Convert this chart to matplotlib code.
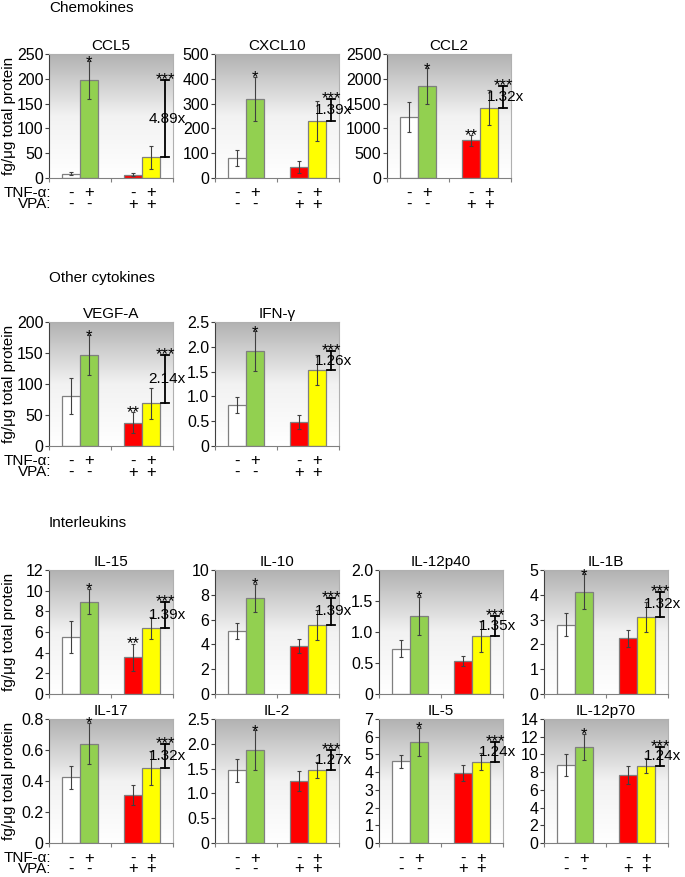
import numpy as np
import matplotlib.pyplot as plt
from matplotlib.colors import LinearSegmentedColormap
from matplotlib.transforms import blended_transform_factory

plt.rcParams['font.family'] = ['Liberation Sans', 'DejaVu Sans']

# bar order in every panel: control, TNF-a, VPA, TNF-a + VPA
panel_names = ["CCL5", "CXCL10", "CCL2", "VEGF-A", "IFN-γ",
               "IL-15", "IL-10", "IL-12p40", "IL-1B",
               "IL-17", "IL-2", "IL-5", "IL-12p70"]
means = [[8.7, 197.7, 6.7, 41.6],
         [80, 319, 43, 230],
         [1227, 1857, 757, 1421],
         [81, 146.5, 37.8, 69],
         [0.82, 1.91, 0.48, 1.53],
         [5.52, 8.93, 3.57, 6.4],
         [5.08, 7.76, 3.86, 5.57],
         [0.73, 1.26, 0.535, 0.93],
         [2.8, 4.13, 2.24, 3.11],
         [0.424, 0.641, 0.309, 0.483],
         [1.466, 1.878, 1.25, 1.48],
         [4.62, 5.70, 3.94, 4.60],
         [8.82, 10.84, 7.68, 8.71]]
sds = [[3, 37.5, 2.7, 23.8],
       [33, 90, 24, 79],
       [300, 355, 110, 362],
       [29, 32, 16.5, 25],
       [0.16, 0.40, 0.135, 0.31],
       [1.52, 1.23, 1.3, 1.05],
       [0.61, 1.15, 0.58, 1.23],
       [0.135, 0.305, 0.083, 0.252],
       [0.45, 0.69, 0.36, 0.6],
       [0.076, 0.133, 0.066, 0.11],
       [0.237, 0.397, 0.2, 0.16],
       [0.37, 0.815, 0.465, 0.475],
       [1.24, 1.52, 0.99, 0.86]]
y_max = [250, 500, 2500, 200, 2.5, 12, 10, 2.0, 5, 0.8, 2.5, 7, 14]
y_step = [50, 100, 500, 50, 0.5, 2, 2, 0.5, 1, 0.2, 0.5, 1, 2]
fold_labels = ["4.89x", "1.39x", "1.32x", "2.14x", "1.26x",
               "1.39x", "1.39x", "1.35x", "1.32x",
               "1.32x", "1.27x", "1.24x", "1.24x"]
red_marks = ["", "", "**", "**", "", "**", "", "", "", "", "", "", ""]
tnf_signs = ["-", "+", "-", "+"]
vpa_signs = ["-", "-", "+", "+"]
bar_colors = ["white", "#92d050", "#ff0000", "#ffff00"]
sections = ["Chemokines", "Other cytokines", "Interleukins"]

# layout in pixels (left, top) of each plot area
W, H = 685, 877
AW, AH = 124, 124
positions = [(49, 54), (215, 54), (387, 54),
             (49, 322), (215, 322),
             (49, 570), (215, 570), (379, 570), (544, 570),
             (49, 719), (215, 719), (379, 719), (544, 719)]
section_y = [8, 278, 523]
ylabel_panels = [0, 3, 5, 9]
rowlabel_panels = [0, 3, 9]
no_sign_panels = [5, 6, 7, 8]

bar_x = [0.358, 0.642, 1.358, 1.642]
bar_w = 0.284
bracket_x = 1.875
FS = 11
TICK_FS = 11.5
SIGN_FS = 12

grad_cmap = LinearSegmentedColormap.from_list("bg", ["#b2b2b2", "#f2f2f2", "#ffffff"])
gradient = np.linspace(0, 1, 256).reshape(-1, 1)

fig = plt.figure(figsize=(W / 100, H / 100), dpi=100)


def fmt_tick(v, step):
    if abs(v) < 1e-9:
        return "0"
    if step < 1:
        return f"{v:.1f}"
    return f"{int(round(v))}"


for i, name in enumerate(panel_names):
    left, top = positions[i]
    ax = fig.add_axes([left / W, 1 - (top + AH) / H, AW / W, AH / H])
    ax.imshow(gradient, cmap=grad_cmap, aspect='auto', extent=[0, 1, 0, 1],
              transform=ax.transAxes, zorder=0, interpolation='bilinear')

    m = means[i]
    s = sds[i]
    ax.bar(bar_x, m, width=bar_w, color=bar_colors, edgecolor="#7f7f7f",
           linewidth=0.9, zorder=2)
    ax.errorbar(bar_x, m, yerr=s, fmt='none', ecolor="#404040",
                elinewidth=0.8, capsize=1.5, capthick=0.8, zorder=3)

    # significance marks
    ax.annotate("*", (bar_x[1], m[1] + s[1]), xytext=(0, -4),
                textcoords='offset points', ha='center', va='baseline',
                fontsize=SIGN_FS, zorder=4)
    if red_marks[i]:
        ax.annotate(red_marks[i], (bar_x[2], m[2] + s[2]), xytext=(0, -3.5),
                    textcoords='offset points', ha='center', va='baseline',
                    fontsize=SIGN_FS, zorder=4)

    # fold-change bracket between TNF-a+VPA and TNF-a
    lo, hi = m[3], m[1]
    cap = 0.065
    ax.plot([bracket_x, bracket_x], [lo, hi], color='black', lw=1.3, zorder=4)
    ax.plot([bracket_x - cap, bracket_x + cap], [hi, hi], color='black', lw=1.3, zorder=4)
    ax.plot([bracket_x - cap, bracket_x + cap], [lo, lo], color='black', lw=1.3, zorder=4)
    ax.annotate("***", (bracket_x, hi), xytext=(0, -3),
                textcoords='offset points', ha='center', va='baseline',
                fontsize=SIGN_FS, zorder=5)
    ax.text(bracket_x + 0.03, (lo + hi) / 2, fold_labels[i], ha='center',
            va='center', fontsize=FS, zorder=5)

    ax.set_xlim(0, 2)
    ax.set_ylim(0, y_max[i])
    yt = np.arange(0, y_max[i] + y_step[i] / 2, y_step[i])
    ax.set_yticks(yt)
    ax.set_yticklabels([fmt_tick(v, y_step[i]) for v in yt], fontsize=TICK_FS)
    ax.set_xticks([0, 1, 2])
    ax.set_xticklabels([])
    ax.tick_params(axis='y', length=3, width=0.8, color='#404040', pad=1)
    ax.tick_params(axis='x', length=3, width=0.8, color='#808080')
    ax.spines['left'].set_color('#404040')
    ax.spines['bottom'].set_color('#808080')
    ax.spines['top'].set_color('#b0b0b0')
    ax.spines['right'].set_color('#b0b0b0')
    for sp in ax.spines.values():
        sp.set_linewidth(0.8)
    ax.set_title(name, fontsize=FS, pad=3)

    if i not in no_sign_panels:
        tr = blended_transform_factory(ax.transData, ax.transAxes)
        for x, t, v in zip(bar_x, tnf_signs, vpa_signs):
            ax.text(x, -15 / AH, t, transform=tr, ha='center', va='center', fontsize=SIGN_FS)
            ax.text(x, -26 / AH, v, transform=tr, ha='center', va='center', fontsize=SIGN_FS)
    if i in rowlabel_panels:
        ax.text(0.02, -15 / AH, "TNF-α:", transform=ax.transAxes, ha='right',
                va='center', fontsize=FS)
        ax.text(0.02, -26 / AH, "VPA:", transform=ax.transAxes, ha='right',
                va='center', fontsize=FS)
    if i in ylabel_panels:
        fig.text(9 / W, 1 - (top + AH / 2) / H, "fg/μg total protein",
                 rotation=90, ha='center', va='center', fontsize=FS)

for title, y in zip(sections, section_y):
    fig.text(49 / W, 1 - y / H, title, ha='left', va='center', fontsize=FS)

fig.savefig("out.png", dpi=100)
